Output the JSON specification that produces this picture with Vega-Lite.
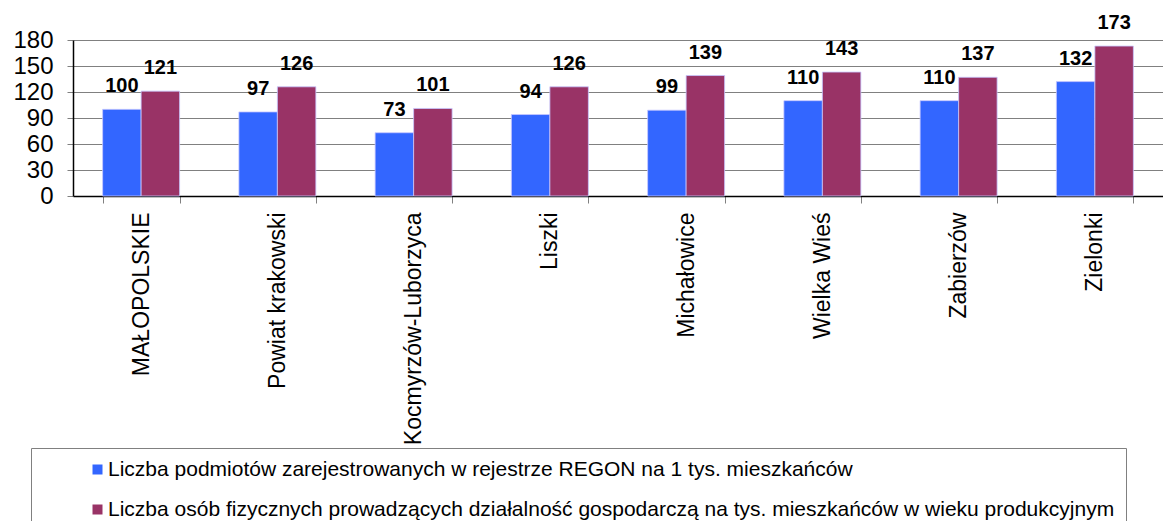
{
  "$schema": "https://vega.github.io/schema/vega-lite/v6.json",
  "autosize": "none",
  "width": 1090,
  "height": 156,
  "padding": {"left": 73, "top": 40, "right": 0, "bottom": 325},
  "background": "white",
  "config": {
    "view": {"stroke": null},
    "font": "Liberation Sans",
    "axis": {"labelFont": "Liberation Sans", "labelColor": "black"}
  },
  "data": {
    "values": [
      {"gmina": "MAŁOPOLSKIE", "series": "Liczba podmiotów zarejestrowanych w rejestrze REGON na 1 tys. mieszkańców", "value": 100},
      {"gmina": "MAŁOPOLSKIE", "series": "Liczba osób fizycznych prowadzących działalność gospodarczą na tys. mieszkańców w wieku produkcyjnym", "value": 121},
      {"gmina": "Powiat krakowski", "series": "Liczba podmiotów zarejestrowanych w rejestrze REGON na 1 tys. mieszkańców", "value": 97},
      {"gmina": "Powiat krakowski", "series": "Liczba osób fizycznych prowadzących działalność gospodarczą na tys. mieszkańców w wieku produkcyjnym", "value": 126},
      {"gmina": "Kocmyrzów-Luborzyca", "series": "Liczba podmiotów zarejestrowanych w rejestrze REGON na 1 tys. mieszkańców", "value": 73},
      {"gmina": "Kocmyrzów-Luborzyca", "series": "Liczba osób fizycznych prowadzących działalność gospodarczą na tys. mieszkańców w wieku produkcyjnym", "value": 101},
      {"gmina": "Liszki", "series": "Liczba podmiotów zarejestrowanych w rejestrze REGON na 1 tys. mieszkańców", "value": 94},
      {"gmina": "Liszki", "series": "Liczba osób fizycznych prowadzących działalność gospodarczą na tys. mieszkańców w wieku produkcyjnym", "value": 126},
      {"gmina": "Michałowice", "series": "Liczba podmiotów zarejestrowanych w rejestrze REGON na 1 tys. mieszkańców", "value": 99},
      {"gmina": "Michałowice", "series": "Liczba osób fizycznych prowadzących działalność gospodarczą na tys. mieszkańców w wieku produkcyjnym", "value": 139},
      {"gmina": "Wielka Wieś", "series": "Liczba podmiotów zarejestrowanych w rejestrze REGON na 1 tys. mieszkańców", "value": 110},
      {"gmina": "Wielka Wieś", "series": "Liczba osób fizycznych prowadzących działalność gospodarczą na tys. mieszkańców w wieku produkcyjnym", "value": 143},
      {"gmina": "Zabierzów", "series": "Liczba podmiotów zarejestrowanych w rejestrze REGON na 1 tys. mieszkańców", "value": 110},
      {"gmina": "Zabierzów", "series": "Liczba osób fizycznych prowadzących działalność gospodarczą na tys. mieszkańców w wieku produkcyjnym", "value": 137},
      {"gmina": "Zielonki", "series": "Liczba podmiotów zarejestrowanych w rejestrze REGON na 1 tys. mieszkańców", "value": 132},
      {"gmina": "Zielonki", "series": "Liczba osób fizycznych prowadzących działalność gospodarczą na tys. mieszkańców w wieku produkcyjnym", "value": 173}
    ]
  },
  "encoding": {
    "x": {
      "field": "gmina",
      "type": "nominal",
      "sort": null,
      "scale": {"paddingInner": 0.435, "paddingOuter": 0.2175},
      "axis": {
        "title": null,
        "labelAngle": -90,
        "labelAlign": "right",
        "labelBaseline": "middle",
        "labelFontSize": 23,
        "labelLimit": 0,
        "labelPadding": 9,
        "labelOverlap": false,
        "tickBand": "extent",
        "tickSize": 7,
        "tickColor": "#808080",
        "domainColor": "black",
        "domainWidth": 1.5,
        "grid": false
      }
    },
    "xOffset": {
      "field": "series",
      "type": "nominal",
      "sort": ["Liczba podmiotów zarejestrowanych w rejestrze REGON na 1 tys. mieszkańców", "Liczba osób fizycznych prowadzących działalność gospodarczą na tys. mieszkańców w wieku produkcyjnym"],
      "scale": {"paddingInner": 0, "paddingOuter": 0}
    },
    "y": {
      "field": "value",
      "type": "quantitative",
      "scale": {"domain": [0, 180], "nice": false},
      "axis": {
        "title": null,
        "values": [0, 30, 60, 90, 120, 150, 180],
        "labelFontSize": 24,
        "labelPadding": 14,
        "tickSize": 6,
        "tickColor": "#808080",
        "domainColor": "black",
        "domainWidth": 1.5,
        "grid": true,
        "gridColor": "#808080",
        "gridWidth": 1.2
      }
    }
  },
  "layer": [
    {
      "mark": {"type": "bar", "stroke": "#c8c8ff", "strokeWidth": 0.8},
      "encoding": {
        "color": {
          "field": "series",
          "type": "nominal",
          "sort": ["Liczba podmiotów zarejestrowanych w rejestrze REGON na 1 tys. mieszkańców", "Liczba osób fizycznych prowadzących działalność gospodarczą na tys. mieszkańców w wieku produkcyjnym"],
          "scale": {"range": ["#3366FF", "#993366"]},
          "legend": {
            "title": null,
            "orient": "none",
            "legendX": -42,
            "legendY": 408,
            "direction": "vertical",
            "symbolType": "square",
            "symbolSize": 100,
            "symbolStrokeWidth": 0,
            "symbolOffset": 45,
            "labelFontSize": 21,
            "labelFont": "Liberation Sans",
            "labelColor": "black",
            "labelLimit": 0,
            "labelOffset": 0,
            "rowPadding": 18,
            "padding": 11,
            "strokeColor": "#808080",
            "fillColor": "white"
          }
        }
      }
    },
    {
      "mark": {"type": "text", "baseline": "alphabetic", "dy": -17, "fontSize": 20, "fontWeight": "bold", "font": "Liberation Sans", "color": "black"},
      "encoding": {
        "text": {"field": "value", "type": "quantitative"}
      }
    }
  ]
}
